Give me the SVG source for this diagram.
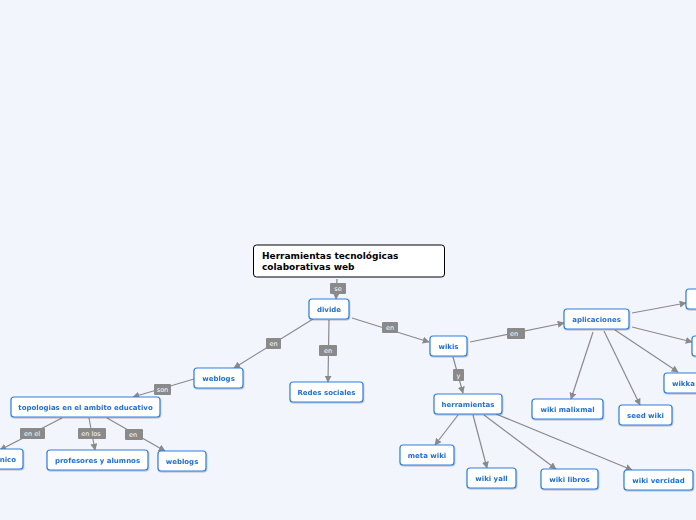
<svg xmlns="http://www.w3.org/2000/svg" width="696" height="520" viewBox="0 0 696 520">
<style>
.n rect{fill:#fff;stroke:#2f7fe0;stroke-width:1.2}
.n text{font-family:"DejaVu Sans",Verdana,sans-serif;font-weight:bold;font-size:7px;fill:#1f6fd6;text-anchor:middle}
.c line{stroke:#8a8a8a;stroke-width:1.2;marker-end:url(#ah)}
.l rect{fill:#8a8a8a}
.l text{font-family:"DejaVu Sans",Verdana,sans-serif;font-size:6.5px;fill:#fff;text-anchor:middle}
.t text{font-family:"DejaVu Sans",Verdana,sans-serif;font-weight:bold;font-size:9px;fill:#000}
</style>
<defs>
<marker id="ah" viewBox="0 0 10 10" refX="9" refY="5" markerWidth="7" markerHeight="7" markerUnits="userSpaceOnUse" orient="auto"><path d="M0,0L10,5L0,10z" fill="#8a8a8a"/></marker>
<filter id="sh" x="-10%" y="-20%" width="120%" height="150%"><feDropShadow dx="0.5" dy="1" stdDeviation="0.6" flood-color="#000" flood-opacity="0.25"/></filter>
</defs>
<rect width="696" height="520" fill="#f3f5fd"/>
<g id="connectors" class="c">
<line x1="337" y1="279" x2="336" y2="299"/>
<line x1="313" y1="319" x2="234" y2="368"/>
<line x1="329" y1="320" x2="328" y2="382"/>
<line x1="352" y1="318" x2="429" y2="342"/>
<line x1="194" y1="379" x2="133" y2="397"/>
<line x1="62" y1="418" x2="0" y2="450"/>
<line x1="89" y1="418" x2="95" y2="450"/>
<line x1="107" y1="418" x2="165" y2="451"/>
<line x1="453" y1="357" x2="463" y2="393"/>
<line x1="470" y1="342" x2="564" y2="323"/>
<line x1="632" y1="313" x2="686" y2="303"/>
<line x1="632" y1="327" x2="692" y2="342"/>
<line x1="615" y1="330" x2="678" y2="372"/>
<line x1="593" y1="332" x2="571" y2="399"/>
<line x1="604" y1="331" x2="640" y2="405"/>
<line x1="458" y1="415" x2="435" y2="445"/>
<line x1="473" y1="415" x2="487" y2="468"/>
<line x1="484" y1="415" x2="556" y2="469"/>
<line x1="496" y1="414" x2="632" y2="470"/>
</g>
<g id="labels" class="l">
<rect x="330" y="283" width="16" height="11" rx="1"/><text x="338" y="291">se</text>
<rect x="266" y="338" width="15" height="11" rx="1"/><text x="273.5" y="346">en</text>
<rect x="319" y="345" width="18" height="11" rx="1"/><text x="328" y="353">en</text>
<rect x="382" y="322" width="16" height="11" rx="1"/><text x="390" y="330">en</text>
<rect x="154" y="384" width="17" height="11" rx="1"/><text x="162.5" y="392">son</text>
<rect x="20" y="428" width="25" height="11" rx="1"/><text x="32" y="436">en el</text>
<rect x="78" y="428" width="28" height="11" rx="1"/><text x="91" y="436">en los</text>
<rect x="125" y="429" width="18" height="11" rx="1"/><text x="133" y="437">en</text>
<rect x="453" y="369" width="11" height="12" rx="1"/><text x="458.5" y="377.5">y</text>
<rect x="507" y="328" width="18" height="11" rx="1"/><text x="514" y="336">en</text>
</g>
<g id="title" class="t">
<rect x="253.5" y="245" width="191" height="32" rx="3" fill="#fff" stroke="#000" stroke-width="1"/>
<text x="262" y="259">Herramientas tecnológicas</text>
<text x="262" y="270">colaborativas web</text>
</g>
<g id="divide" class="n" filter="url(#sh)"><rect x="309" y="299" width="40" height="20" rx="3"/><text x="329" y="312">divide</text></g>
<g id="weblogs" class="n" filter="url(#sh)"><rect x="194" y="368" width="49" height="20" rx="3"/><text x="218.5" y="381">weblogs</text></g>
<g id="redes" class="n" filter="url(#sh)"><rect x="290" y="382" width="73" height="20" rx="3"/><text x="326.5" y="395">Redes sociales</text></g>
<g id="wikis" class="n" filter="url(#sh)"><rect x="430" y="336" width="37" height="20" rx="3"/><text x="448.5" y="349">wikis</text></g>
<g id="topologias" class="n" filter="url(#sh)"><rect x="11" y="397" width="149" height="20" rx="3"/><text x="85.5" y="410">topologias en el ambito educativo</text></g>
<g id="nico" class="n" filter="url(#sh)"><rect x="-40" y="449" width="63" height="20" rx="3"/><text x="16" y="462" style="text-anchor:end">nico</text></g>
<g id="profesores" class="n" filter="url(#sh)"><rect x="47" y="450" width="101" height="20" rx="3"/><text x="97.5" y="463">profesores y alumnos</text></g>
<g id="weblogs2" class="n" filter="url(#sh)"><rect x="158" y="451" width="48" height="20" rx="3"/><text x="182" y="464">weblogs</text></g>
<g id="herramientas" class="n" filter="url(#sh)"><rect x="434" y="394" width="68" height="20" rx="3"/><text x="468" y="407">herramientas</text></g>
<g id="aplicaciones" class="n" filter="url(#sh)"><rect x="564" y="309" width="65" height="20" rx="3"/><text x="596.5" y="322">aplicaciones</text></g>
<g id="right1" class="n" filter="url(#sh)"><rect x="686" y="289" width="40" height="20" rx="3"/></g>
<g id="right2" class="n" filter="url(#sh)"><rect x="692" y="336" width="40" height="20" rx="3"/></g>
<g id="wikka" class="n" filter="url(#sh)"><rect x="664" y="373" width="50" height="20" rx="3"/><text x="672" y="386" style="text-anchor:start">wikka</text></g>
<g id="malixmal" class="n" filter="url(#sh)"><rect x="532" y="399" width="71" height="20" rx="3"/><text x="567.5" y="412">wiki malixmal</text></g>
<g id="seed" class="n" filter="url(#sh)"><rect x="619" y="405" width="53" height="20" rx="3"/><text x="645.5" y="418">seed wiki</text></g>
<g id="meta" class="n" filter="url(#sh)"><rect x="400" y="445" width="54" height="20" rx="3"/><text x="427" y="458">meta wiki</text></g>
<g id="yall" class="n" filter="url(#sh)"><rect x="467" y="468" width="49" height="20" rx="3"/><text x="491.5" y="481">wiki yall</text></g>
<g id="libros" class="n" filter="url(#sh)"><rect x="541" y="469" width="57" height="20" rx="3"/><text x="569.5" y="482">wiki libros</text></g>
<g id="vercidad" class="n" filter="url(#sh)"><rect x="624" y="470" width="69" height="20" rx="3"/><text x="658.5" y="483">wiki vercidad</text></g>
</svg>
